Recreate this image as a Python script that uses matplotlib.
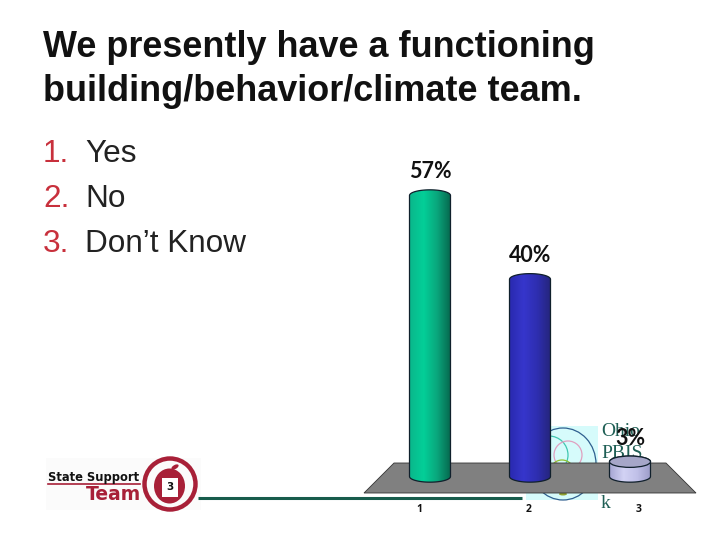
import matplotlib
matplotlib.use('Agg')
import matplotlib.pyplot as plt
from matplotlib.patches import Ellipse, Polygon, Rectangle, Circle, PathPatch
from matplotlib.path import Path
from matplotlib.colors import LinearSegmentedColormap
import numpy as np

title_lines = ['We presently have a functioning', 'building/behavior/climate team.']
list_nums = ['1.', '2.', '3.']
list_items = ['Yes', 'No', 'Don\u2019t Know']
categories = ['1', '2', '3']
values = [57, 40, 3]
labels = ['57%', '40%', '3%']
bar_colors = [('#0ab88c', '#03cf98', '#0aa67c', '#06684e'),
              ('#2a2ab0', '#3636cc', '#2e2eb0', '#25257c'),
              ('#a8a8d4', '#d2d2f4', '#c0c0e8', '#9c9cc8')]
top_colors = ['#08b488', '#2e2eb4', '#a6a6c8']

W, H = 720, 540
fig = plt.figure(figsize=(7.2, 5.4), dpi=100, facecolor='white')

# page layer in pixel coords
bg = fig.add_axes([0, 0, 1, 1])
bg.set_xlim(0, W)
bg.set_ylim(H, 0)
bg.axis('off')

for i, line in enumerate(title_lines):
    bg.text(43, 47.5 + i * 44, line, fontsize=25.9, fontweight='bold', family='Liberation Sans',
            color='#111111', va='center', ha='left')
for i in range(3):
    bg.text(43, 153.5 + i * 45.5, list_nums[i], fontsize=22.7, family='Liberation Sans',
            color='#c8303c', va='center', ha='left')
    bg.text(85, 153.5 + i * 45.5, list_items[i], fontsize=22.7, family='Liberation Sans',
            color='#222222', va='center', ha='left')

# faint Ohio PBIS network logo behind the floor
bg.add_patch(Rectangle((526, 426), 72, 74, color='#d6fbfb', lw=0))
bg.add_patch(Ellipse((563, 464), 66, 72, fc='none', ec='#2f5f8f', lw=0.9))
bg.add_patch(Circle((549, 455), 19, fc='none', ec='#40c8b0', lw=0.9))
bg.add_patch(Circle((568, 455), 14, fc='none', ec='#e0a0c0', lw=0.9))
bg.add_patch(Circle((562, 472), 12, fc='none', ec='#90c030', lw=0.9))
bg.add_patch(Ellipse((563, 494), 8, 3, color='#90a030', lw=0))
for txt, y in [('Ohio', 431), ('PBIS', 454), ('k', 503)]:
    bg.text(601, y, txt, fontsize=14, family='Liberation Serif', color='#1f5f55', va='center')

# floor and footer rule
bg.add_patch(Polygon([(364, 493), (394, 463), (666, 463), (696, 493)], fc='#808080', ec='#333333', lw=0.6))
bg.plot([198, 522], [498, 498], color='#175c4c', lw=2.2, solid_capstyle='butt')

# State Support Team logo
bg.add_patch(Rectangle((46, 458), 155, 52, color='#fbfbfb', lw=0))
bg.text(48, 478, 'State Support', fontsize=8.3, fontweight='bold', family='DejaVu Sans',
        color='#111111', va='center')
bg.plot([48, 140], [484, 484], color='#a82038', lw=1.2)
bg.text(86, 494, 'Team', fontsize=13.5, fontweight='bold', family='DejaVu Sans',
        color='#a82038', va='center')
bg.add_patch(Circle((170, 484), 25.5, fc='none', ec='#a82038', lw=3.2))
bg.add_patch(Ellipse((169.5, 486), 31, 35, color='#a82038', lw=0))
bg.add_patch(Rectangle((162, 478), 16, 19, color='white', lw=0))
bg.add_patch(Ellipse((175, 467), 8, 4, angle=-30, color='#a82038', lw=0))
bg.text(170, 487, '3', fontsize=7.5, fontweight='bold', color='#111111', ha='center', va='center')

# chart layer: categories at px 430,530,630, value 0 at px 476.5, room below for the rounded base
y0_px = 476.5
px_per_unit = 4.93
y_floor = -5
ax = fig.add_axes([380 / W, 1 - (y0_px - y_floor * px_per_unit) / H, 300 / W, (60 - y_floor) * px_per_unit / H])
ax.axis('off')
ax.patch.set_alpha(0)

bar_w = 0.41
cap_h = 2.3
t = np.linspace(0, np.pi, 40)
for i, v in enumerate(values):
    x = i + 1
    cmap = LinearSegmentedColormap.from_list('bar%d' % i, bar_colors[i])
    grad = np.linspace(0, 1, 64).reshape(1, -1)
    # cylinder outline: domed top, rounded base
    top_x = x + bar_w / 2 * np.cos(t)
    top_y = v + cap_h / 2 * np.sin(t)
    base_x = x - bar_w / 2 * np.cos(t)
    base_y = -cap_h / 2 * np.sin(t)
    verts = np.vstack([np.column_stack([top_x, top_y]), np.column_stack([base_x, base_y]),
                       [[top_x[0], top_y[0]]]])
    shape = Path(verts, closed=True)
    im = ax.imshow(grad, extent=[x - bar_w / 2, x + bar_w / 2, -cap_h / 2, v + cap_h / 2],
                   cmap=cmap, aspect='auto', zorder=3)
    edge = PathPatch(shape, fc='none', ec='#10202c', lw=0.9, zorder=4)
    ax.add_patch(edge)
    im.set_clip_path(edge)
    if i == 2:
        # short cylinder shows its whole top face
        ax.add_patch(Ellipse((x, v), bar_w, cap_h, fc=top_colors[i], ec='#10202c', lw=0.9, zorder=5))
    ax.text(x, v + 4.8, labels[i], fontsize=15.5, fontweight='bold', family='Lato',
            color='#111111', ha='center', va='center', zorder=6)
ax.set_xlim(0.5, 3.5)
ax.set_ylim(y_floor, 60)

for i, cat in enumerate(categories):
    bg.text(419 + i * 110, 509, cat, fontsize=7.5, fontweight='bold', family='Open Sans',
            color='#111111', ha='center', va='center')

fig.savefig('out.png', dpi=100)
